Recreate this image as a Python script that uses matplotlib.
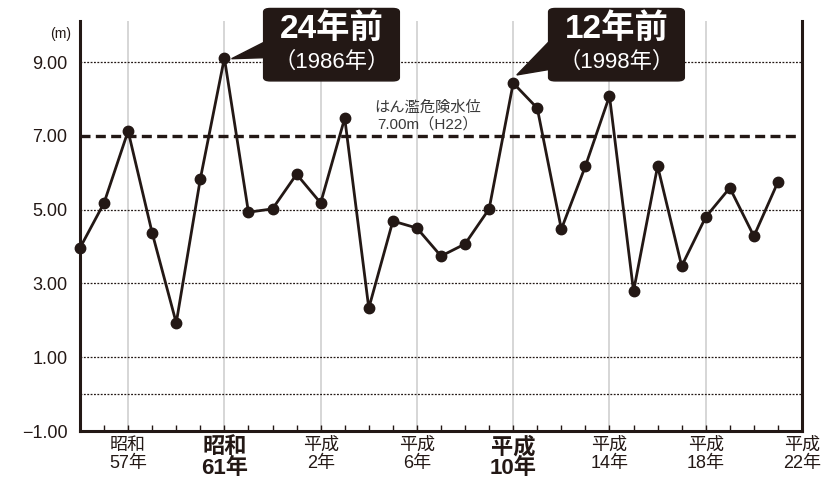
import numpy as np
import matplotlib.pyplot as plt
from matplotlib.patches import FancyBboxPatch, Polygon

plt.rcParams['font.family'] = ['Liberation Sans', 'Noto Sans CJK JP']

# water level by year (m)
years = list(range(1980, 2010))
levels = [3.96, 5.18, 7.13, 4.37, 1.93, 5.83, 9.11, 4.93, 5.02, 5.96,
          5.18, 7.48, 2.33, 4.69, 4.50, 3.74, 4.07, 5.02, 8.43, 7.75,
          4.47, 6.18, 8.08, 2.79, 6.18, 3.47, 4.80, 5.59, 4.28, 5.75]

tick_years = [1982, 1986, 1990, 1994, 1998, 2002, 2006, 2010]
tick_labels = ['昭和\n57年', '昭和\n61年', '平成\n2年', '平成\n6年',
               '平成\n10年', '平成\n14年', '平成\n18年', '平成\n22年']
bold_ticks = [1986, 1998]

yticks = [-1, 1, 3, 5, 7, 9]
dotted_levels = [0, 1, 3, 5, 9]
danger_level = 7.0

callouts = [(1986, '24年前', '（1986年）'), (1998, '12年前', '（1998年）')]

ink = '#231815'

fig = plt.figure(figsize=(8.21, 4.79), dpi=100)
ax = fig.add_axes([0.0974, 0.1002, 0.8795, 0.8558])

ax.set_xlim(1980, 2010)
ax.set_ylim(-1, 10.11)

# grid
for x in tick_years[:-1]:
    ax.axvline(x, color='#cfcfcf', lw=1.2, zorder=1)
for y in dotted_levels:
    ax.axhline(y, color=ink, lw=0.9, ls=(0, (1.5, 1.2)), zorder=1)
ax.axhline(danger_level, color=ink, lw=2.4, ls=(0, (3, 1.6)), zorder=2)

ax.plot(years, levels, color=ink, lw=2, marker='o', ms=7.5, zorder=4,
        clip_on=False)

# spines
for s in ['left', 'bottom', 'right']:
    ax.spines[s].set_linewidth(2.2)
    ax.spines[s].set_color(ink)
ax.spines['top'].set_visible(False)

ax.set_yticks(yticks)
ax.set_yticklabels(['−1.00' if v < 0 else f'{v:.2f}' for v in yticks])
ax.tick_params(axis='y', length=0, pad=9, labelsize=13, labelcolor=ink)

ax.set_xticks(tick_years)
ax.set_xticklabels(tick_labels)
ax.set_xticks(years[1:], minor=True)
ax.tick_params(axis='x', which='both', direction='in', length=4, width=1,
               color=ink, pad=4)
ax.tick_params(axis='x', which='major', labelsize=13, labelcolor=ink)
for lab, yr in zip(ax.get_xticklabels(), tick_years):
    lab.set_linespacing(1.12)
    if yr in bold_ticks:
        lab.set_fontweight('bold')
        lab.set_fontsize(16)
        lab.set_linespacing(1.0)

ax.text(-0.012, 0.985, '(m)', transform=ax.transAxes, ha='right', va='top',
        fontsize=10, color=ink)

ax.text(1994.45, 7.55, 'はん濫危険水位\n7.00m（H22）', ha='center', va='center',
        fontsize=11, color='#3a3a3a', linespacing=1.2)

# callout boxes
lvl = dict(zip(years, levels))
box_offset = [4.45, 4.29]
for (yr, big, small), dx in zip(callouts, box_offset):
    cx, cy = yr + dx, 9.47
    w, h = 5.6, 1.95
    box = FancyBboxPatch((cx - w / 2, cy - h / 2), w, h,
                         boxstyle='round,pad=0.02,rounding_size=0.28',
                         mutation_aspect=0.33,
                         fc=ink, ec=ink, clip_on=False, zorder=6)
    ax.add_patch(box)
    px, py = yr, lvl[yr]
    if yr == 1986:
        tri = [(cx - w / 2 + 0.1, cy + 0.1), (cx - w / 2 + 0.1, cy - 0.35),
               (px + 0.3, py - 0.02)]
    else:
        tri = [(cx - w / 2 + 0.1, cy + 0.15), (cx - w / 2 + 0.2, cy - 0.65),
               (px + 0.15, py + 0.22)]
    ax.add_patch(Polygon(tri, closed=True, fc=ink, ec=ink, clip_on=False,
                         zorder=6))
    ax.text(cx, cy + 0.42, big, ha='center', va='center', color='white',
            fontsize=24, fontweight='bold', zorder=7)
    ax.text(cx, cy - 0.47, small, ha='center', va='center', color='white',
            fontsize=16, zorder=7)

fig.savefig('out.png', dpi=100)
